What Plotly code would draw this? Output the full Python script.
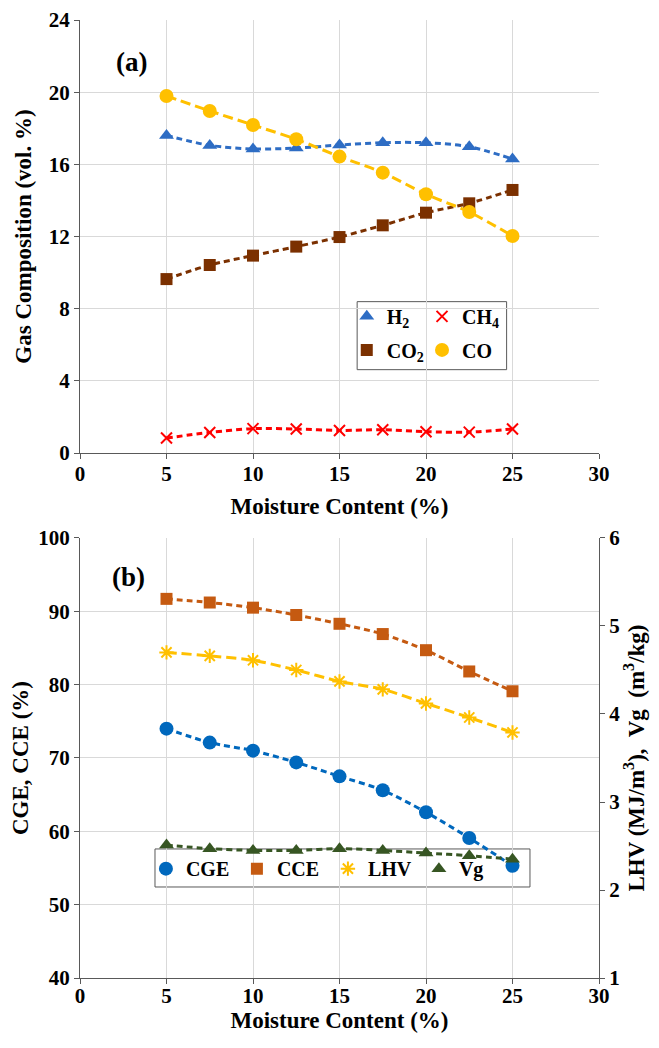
import plotly.graph_objects as go

# ---------------- data ----------------
moisture = [5, 7.5, 10, 12.5, 15, 17.5, 20, 22.5, 25]

h2 = [17.6, 17.05, 16.85, 16.9, 17.07, 17.2, 17.2, 16.98, 16.3]
ch4 = [0.83, 1.14, 1.35, 1.33, 1.25, 1.29, 1.18, 1.16, 1.33]
co2 = [9.64, 10.42, 10.94, 11.44, 11.97, 12.62, 13.32, 13.84, 14.58]
co = [19.79, 18.96, 18.18, 17.39, 16.43, 15.54, 14.34, 13.36, 12.03]

cge = [74.0, 72.1, 71.0, 69.4, 67.5, 65.6, 62.6, 59.1, 55.3]
cce = [91.7, 91.2, 90.5, 89.5, 88.3, 86.9, 84.7, 81.8, 79.1]
lhv = [4.70, 4.66, 4.61, 4.50, 4.37, 4.28, 4.12, 3.96, 3.79]
vg = [2.51, 2.47, 2.45, 2.45, 2.47, 2.45, 2.42, 2.39, 2.35]

x_ticks = [0, 5, 10, 15, 20, 25, 30]

FONT = "Liberation Serif"
GRID = "#d9d9d9"
AXL = "#595959"

fig = go.Figure()

def add(x, y, name, color, symbol, size, dash, xa, ya, legend, mline=None):
    fig.add_trace(go.Scatter(
        x=x, y=y, mode="lines", showlegend=False, hoverinfo="skip",
        line=dict(color=color, width=3, dash=dash, shape="spline", smoothing=0.8),
        xaxis=xa, yaxis=ya))
    fig.add_trace(go.Scatter(
        x=x, y=y, name=name, mode="markers",
        marker=dict(symbol=symbol, size=size, color=color,
                    line=mline if mline else dict(width=0)),
        xaxis=xa, yaxis=ya, legend=legend))

short = "6px,4px"
long_ = "10px,5px"

# panel (a)
add(moisture, h2, "H<sub>2</sub>", "#2E6DC4", "triangle-up", 13, short, "x", "y", "legend")
add(moisture, ch4, "CH<sub>4</sub>", "#FF0000", "x-thin-open", 11, short, "x", "y", "legend2",
    mline=dict(color="#FF0000", width=2))
add(moisture, co2, "CO<sub>2</sub>", "#7B3000", "square", 12, short, "x", "y", "legend4")
add(moisture, co, "CO", "#FFC000", "circle", 14, long_, "x", "y", "legend5")

# panel (b)
add(moisture, cge, "CGE", "#0068BD", "circle", 14, short, "x2", "y2", "legend3")
add(moisture, cce, "CCE", "#C55A11", "square", 12, short, "x2", "y2", "legend3")
add(moisture, lhv, "LHV", "#FFC000", "asterisk-open", 12, long_, "x2", "y3", "legend3",
    mline=dict(color="#FFC000", width=2))
add(moisture, vg, "Vg", "#375623", "triangle-up", 13, short, "x2", "y3", "legend3")

tickfont = dict(family=FONT, size=21, color="black", weight="bold")
titlefont = dict(family=FONT, size=23, color="black", weight="bold")

def xaxis(anchor, standoff, lstand):
    return dict(anchor=anchor, domain=[0, 1], range=[0, 30], tickvals=x_ticks,
                showline=True, linecolor=AXL, linewidth=1.3, ticks="outside",
                ticklen=5, tickcolor=AXL, showgrid=True, gridcolor=GRID, gridwidth=1.3,
                zeroline=False, tickfont=tickfont, automargin=False,
                ticklabelstandoff=lstand,
                title=dict(text="Moisture Content (%)", font=titlefont, standoff=standoff))

def yaxis(anchor, domain, rng, dtick, title, side="left", overlaying=None, grid=True,
          standoff=10):
    d = dict(anchor=anchor, domain=domain, range=rng, dtick=dtick, side=side,
             showline=True, linecolor=AXL, linewidth=1.3, ticks="outside",
             ticklen=5, tickcolor=AXL, showgrid=grid, gridcolor=GRID, gridwidth=1.3,
             zeroline=False, tickfont=tickfont, automargin=False,
             title=dict(text=title, font=titlefont, standoff=standoff))
    if overlaying:
        d["overlaying"] = overlaying
    return d

legfont = dict(family=FONT, size=20, color="black", weight="bold")

def leg(x, y):
    return dict(orientation="h", x=x, y=y, xanchor="left", yanchor="top",
                font=legfont, bgcolor="rgba(0,0,0,0)", itemwidth=30)

fig.update_layout(
    width=651, height=1040,
    margin=dict(l=72, r=60, t=12, b=70),
    paper_bgcolor="white", plot_bgcolor="white",
    showlegend=True,
    xaxis=xaxis("y", 12, -3),
    yaxis=yaxis("x", [0.548, 1], [0, 24], 4, "Gas Composition (vol. %)"),
    xaxis2=xaxis("y2", 0, -6),
    yaxis2=yaxis("x2", [0, 0.4593], [40, 100], 10, "CGE, CCE (%)"),
    yaxis3=yaxis("x2", [0, 0.4593], [1, 6], 1,
                 "LHV (MJ/m<sup>3</sup>),  Vg  (m<sup>3</sup>/kg)",
                 side="right", overlaying="y2", grid=False, standoff=8),
    legend=leg(0.514, 0.711),
    legend2=leg(0.659, 0.711),
    legend4=leg(0.514, 0.676),
    legend5=leg(0.659, 0.676),
    legend3=dict(orientation="h", x=0.127, y=0.1345, xanchor="left", yanchor="top",
                 font=legfont, bgcolor="rgba(0,0,0,0)", borderwidth=0,
                 entrywidth=46, entrywidthmode="pixels", itemwidth=30),
    annotations=[
        dict(text="(a)", x=2.95, y=21.7, xref="x", yref="y",
             showarrow=False, font=dict(family=FONT, size=27, color="black", weight="bold")),
        dict(text="(b)", x=2.8, y=94.7, xref="x2", yref="y2",
             showarrow=False, font=dict(family=FONT, size=27, color="black", weight="bold")),
    ],
    shapes=[
        dict(type="rect", xref="paper", yref="paper", x0=0.534, x1=0.822,
             y0=0.635, y1=0.706, line=dict(color=AXL, width=1), fillcolor="white",
             layer="below"),
        dict(type="rect", xref="paper", yref="paper", x0=0.1445, x1=0.867,
             y0=0.095, y1=0.1347, line=dict(color=AXL, width=1), fillcolor="white",
             layer="below"),
    ],
)
fig.write_html("out.html")
